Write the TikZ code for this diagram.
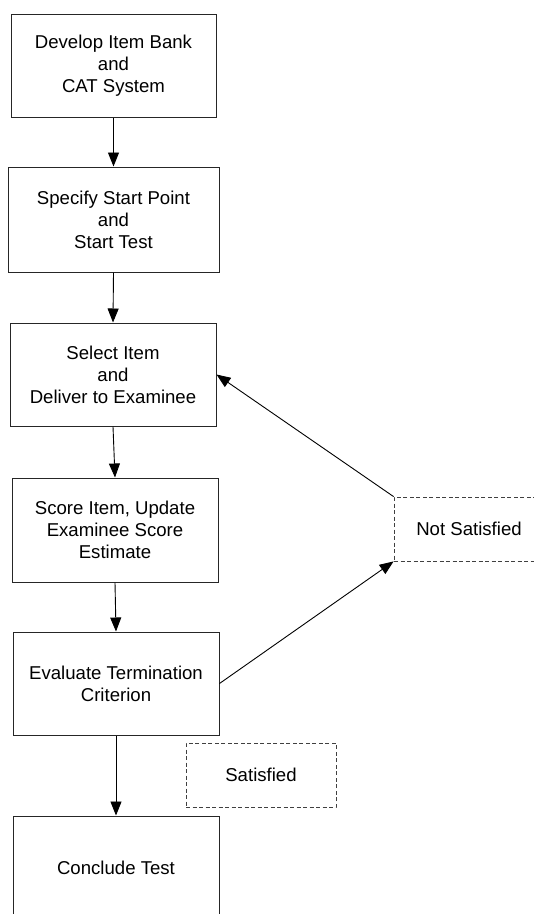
\documentclass[tikz,border=0pt]{standalone}
\usepackage{fontspec}
\setmainfont{Liberation Sans}
\usetikzlibrary{arrows.meta}
\begin{document}
\begin{tikzpicture}[x=1pt,y=-1pt,
  stepbox/.style={draw=black!85, line width=1pt, rectangle, inner sep=0pt,
    align=center, font=\fontsize{18.6}{22}\selectfont},
  outcome/.style={draw=black!75, line width=0.8pt, dash pattern=on 4pt off 2.5pt,
    rectangle, inner sep=0pt, minimum width=150pt, minimum height=64pt,
    align=center, font=\fontsize{18.6}{22}\selectfont},
  flow/.style={line width=0.9pt, -{Triangle[length=14pt,width=11pt]}}]
\useasboundingbox (0,0) rectangle (534,914);
\clip (0,0) rectangle (534,914);
\fill[white] (0,0) rectangle (534,914);

% process steps
\node[stepbox, minimum width=205pt, minimum height=103pt] (develop) at (113.5,65.5)
  {Develop Item Bank\\and\\CAT System};
\node[stepbox, minimum width=211pt, minimum height=105pt] (start) at (113.5,219.5)
  {Specify Start Point\\and\\Start Test};
\node[stepbox, minimum width=206pt, minimum height=103pt] (select) at (113,374.5)
  {Select Item\\and\\Deliver to Examinee};
\node[stepbox, minimum width=206pt, minimum height=104pt] (score) at (115,530)
  {Score Item, Update\\Examinee Score\\Estimate};
\node[stepbox, minimum width=206pt, minimum height=103pt] (evaluate) at (116,683.5)
  {Evaluate Termination\\Criterion};
\node[stepbox, minimum width=206pt, minimum height=103pt] (conclude) at (116,867.5)
  {Conclude Test};

% outcome labels
\node[outcome] (notsat) at (469,529) {Not Satisfied};
\node[outcome] (sat) at (261,775) {Satisfied};

% main sequence
\draw[flow] (develop.south) -- (start.north);
\draw[flow] (start.south) -- (select.north);
\draw[flow] (select.south) -- (score.north);
\draw[flow] (score.south) -- (evaluate.north);
\draw[flow] (evaluate.south) -- (conclude.north);

% loop back while the criterion is not satisfied
\draw[flow] (evaluate.east) -- (notsat.south west);
\draw[flow] (notsat.north west) -- (select.east);
\end{tikzpicture}
\end{document}
